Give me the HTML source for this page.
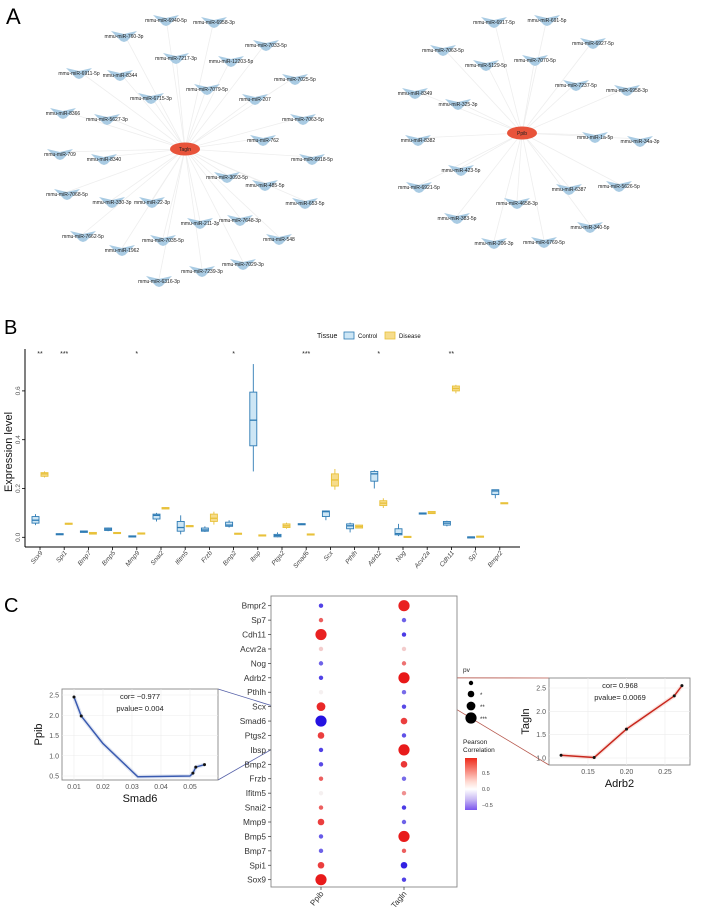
<!DOCTYPE html>
<html><head><meta charset="utf-8">
<style>
html,body{margin:0;padding:0;background:#fff;}
svg{display:block;font-family:"Liberation Sans",sans-serif;}
</style></head>
<body>
<svg id="fig" width="709" height="908" viewBox="0 0 709 908" xmlns="http://www.w3.org/2000/svg">
<text x="6" y="24" font-size="22">A</text>
<text x="4" y="334" font-size="20">B</text>
<text x="4" y="612" font-size="20">C</text>
<g id="netA"></g>
<g id="boxB"></g>
<g id="dotC"></g>
</svg>
<script>
// ---------- Panel A data ----------
const leftHub = "Tagln";
const leftMirs = ["6940-5p","6958-3p","760-3p","7033-5p","7217-3p","12203-5p","6911-5p","8344","7025-5p","7079-5p","6715-3p","207","8366","5627-3p","7063-5p","762","709","8340","6918-5p","3093-5p","7068-5p","485-5p","330-3p","22-3p","653-5p","211-3p","7648-3p","7662-5p","548","7035-5p","1962","7029-3p","7239-3p","6316-3p"];
const leftPos = [[166,20],[214,22],[124,36],[266,45],[176,58],[231,61],[79,73],[120,75],[295,79],[207,89],[151,98],[255,99],[63,113],[107,119],[303,119],[263,140],[60,154],[104,159],[312,159],[227,177],[67,194],[265,185],[112,202],[152,202],[305,203],[200,223],[240,220],[83,236],[279,239],[163,240],[122,250],[243,264],[202,271],[159,281]];
const rightHub = "Ppib";
const rightMirs = ["6917-5p","691-5p","6927-5p","7063-5p","5129-5p","7070-5p","7237-5p","6958-3p","8349","325-3p","8382","1a-5p","34a-3p","423-5p","6921-5p","5626-5p","6387","4658-3p","383-5p","340-5p","206-3p","6769-5p"];
const rightPos = [[494,22],[547,20],[593,43],[443,50],[486,65],[535,60],[576,85],[627,90],[415,93],[458,104],[418,140],[595,137],[640,141],[461,170],[419,187],[619,186],[569,189],[517,203],[457,218],[590,227],[494,243],[544,242]];

// ---------- Panel B data ----------
const genes = ["Sox9","Spi1","Bmp7","Bmp5","Mmp9","Snai2","Ifitm5","Frzb","Bmp2","Ibsp","Ptgs2","Smad6","Scx","Pthlh","Adrb2","Nog","Acvr2a","Cdh11","Sp7","Bmpr2"];
const ctrlMin = [0.05,0.011,0.019,0.025,0.001,0.065,0.012,0.022,0.04,0.27,0.0,0.051,0.07,0.02,0.2,0.005,0.094,0.045,0.0,0.16];
const ctrlQ1  = [0.058,0.012,0.02,0.028,0.002,0.075,0.025,0.025,0.045,0.375,0.002,0.052,0.085,0.035,0.23,0.01,0.095,0.05,0.0,0.175];
const ctrlMed = [0.07,0.013,0.023,0.033,0.004,0.09,0.04,0.03,0.05,0.48,0.007,0.054,0.105,0.047,0.26,0.015,0.097,0.058,0.001,0.19];
const ctrlQ3  = [0.085,0.015,0.026,0.038,0.006,0.095,0.065,0.038,0.062,0.595,0.012,0.056,0.108,0.055,0.27,0.035,0.1,0.065,0.002,0.195];
const ctrlMax = [0.095,0.016,0.027,0.04,0.007,0.1,0.09,0.045,0.07,0.71,0.02,0.057,0.11,0.06,0.275,0.055,0.101,0.068,0.003,0.195];
const disMin = [0.245,0.052,0.013,0.016,0.013,0.115,0.045,0.052,0.013,0.006,0.035,0.01,0.195,0.038,0.12,0.001,0.097,0.59,0.002,0.138];
const disQ1  = [0.25,0.053,0.013,0.016,0.013,0.116,0.045,0.065,0.013,0.006,0.04,0.01,0.21,0.038,0.13,0.001,0.097,0.6,0.002,0.138];
const disMed = [0.26,0.055,0.016,0.018,0.015,0.12,0.047,0.078,0.015,0.008,0.047,0.012,0.235,0.044,0.14,0.002,0.1,0.61,0.003,0.14];
const disQ3  = [0.265,0.058,0.02,0.02,0.018,0.122,0.048,0.095,0.017,0.01,0.055,0.014,0.26,0.05,0.15,0.004,0.106,0.62,0.005,0.142];
const disMax = [0.27,0.059,0.021,0.021,0.019,0.123,0.049,0.105,0.018,0.011,0.06,0.015,0.28,0.051,0.16,0.005,0.107,0.625,0.006,0.142];
const sigStars = ["**","***","","","*","","","","*","","","***","","","*","","","**","",""];
const yTicksB = [0.0,0.2,0.4,0.6];

// ---------- Panel C data ----------
const rowGenes = ["Bmpr2","Sp7","Cdh11","Acvr2a","Nog","Adrb2","Pthlh","Scx","Smad6","Ptgs2","Ibsp","Bmp2","Frzb","Ifitm5","Snai2","Mmp9","Bmp5","Bmp7","Spi1","Sox9"];
const colGenes = ["Ppib","Tagln"];
const corPpib = [-0.6,0.5,0.9,0.05,-0.4,-0.6,0.0,0.85,-0.977,0.7,-0.6,-0.55,0.5,0.0,0.5,0.7,-0.45,-0.4,0.7,0.95];
const pvPpib  = [0,0,3,0,0,0,0,2,3,1,0,0,0,0,0,1,0,0,1,3];
const corTagln = [0.9,-0.4,-0.65,0.05,0.4,0.968,-0.35,-0.55,0.7,-0.5,0.95,0.75,-0.35,0.25,-0.65,-0.4,0.95,0.5,-0.85,-0.6];
const pvTagln  = [3,0,0,0,0,3,0,0,1,0,3,1,0,0,0,0,3,0,1,0];
const smadX = [0.01,0.0125,0.051,0.052,0.055];
const ppibY = [2.45,1.98,0.57,0.72,0.78];
const smadFitX = [0.01,0.0125,0.02,0.032,0.05,0.051,0.052,0.055];
const smadFitY = [2.45,1.98,1.3,0.48,0.5,0.57,0.72,0.78];
const adrbX = [0.115,0.158,0.2,0.262,0.272];
const taglnY = [1.06,1.01,1.62,2.33,2.55];
const leftXTicks = [0.01,0.02,0.03,0.04,0.05];
const leftYTicks = [0.5,1.0,1.5,2.0,2.5];
const rightXTicks = [0.15,0.20,0.25];
const rightYTicks = [1.0,1.5,2.0,2.5];
const pvLabels = ["","*","**","***"];
const cbTicks = [0.5,0.0,-0.5];

const NS="http://www.w3.org/2000/svg";
function mk(tag, attrs, parent, text){
  const e=document.createElementNS(NS,tag);
  for(const k in attrs) e.setAttribute(k,attrs[k]);
  if(text!==undefined) e.textContent=text;
  parent.appendChild(e); return e;
}

// ---------- Panel A ----------
const gA=document.getElementById('netA');
function drawNet(hub,cx,cy,names,pos){
  pos.forEach(p=>{ const l=mk('line',{x1:cx,y1:cy,x2:p[0],y2:p[1]-2,stroke:'#eeeeee','stroke-width':0.8},gA);
      });
  names.forEach((n,i)=>{
    const [x,y]=pos[i];
    const v=mk('path',{d:`M${x-13},${y-5} L${x},${y-2} L${x+13},${y-5} L${x+3},${y+5} L${x},${y+6} L${x-3},${y+5} Z`,fill:'#a9cbe3'},gA);
     
    const t=mk('text',{x:x,y:y+2,'font-size':5,'text-anchor':'middle',fill:'#222'},gA,'mmu-miR-'+n);
     
  });
  const h=mk('ellipse',{cx:cx,cy:cy,rx:15,ry:6.5,fill:'#e8533a'},gA);
   
  const ht=mk('text',{x:cx,y:cy+2,'font-size':5,'text-anchor':'middle',fill:'#222'},gA,hub);
   
}
drawNet(leftHub,185,149,leftMirs,leftPos);
drawNet(rightHub,522,133,rightMirs,rightPos);

// ---------- Panel B ----------
const gB=document.getElementById('boxB');
const bx0=25,bx1=520,byAxis=547;
const yB=v=>537.3-v*244;
const xB=i=>40+i*24.2;
let e;
e=mk('line',{x1:bx0,y1:349,x2:bx0,y2:byAxis,stroke:'#000','stroke-width':1},gB);
 
e=mk('line',{x1:bx0,y1:byAxis,x2:bx1,y2:byAxis,stroke:'#000','stroke-width':1},gB);
 
yTicksB.forEach(v=>{
  mk('line',{x1:bx0-3,y1:yB(v),x2:bx0,y2:yB(v),stroke:'#000','stroke-width':0.8},gB);
  const t=mk('text',{x:0,y:0,'font-size':6.5,'text-anchor':'middle',fill:'#555',transform:`translate(20,${yB(v)}) rotate(-90)`},gB,v.toFixed(1));
   
});
e=mk('text',{x:0,y:0,'font-size':11,'text-anchor':'middle',fill:'#111',transform:'translate(12,452) rotate(-90)'},gB,'Expression level');
 
e=mk('text',{x:317,y:338,'font-size':7,fill:'#111'},gB,'Tissue');
 
e=mk('rect',{x:344,y:332,width:10,height:7,fill:'#cde6f5',stroke:'#2e7bb4','stroke-width':0.8},gB);
 
e=mk('text',{x:358,y:338,'font-size':6,fill:'#111'},gB,'Control');
 
e=mk('rect',{x:385,y:332,width:10,height:7,fill:'#f6dc8c',stroke:'#e8c13a','stroke-width':0.8},gB);
 
e=mk('text',{x:399,y:338,'font-size':6,fill:'#111'},gB,'Disease');
 

function box(cx,mn,q1,md,q3,mx,fill,stroke,name){
  const w=7;
  let el=mk('line',{x1:cx,y1:yB(mx),x2:cx,y2:yB(mn),stroke:stroke,'stroke-width':0.9},gB);
   
  el=mk('rect',{x:cx-w/2,y:yB(q3),width:w,height:Math.max(1.2,yB(q1)-yB(q3)),fill:fill,stroke:stroke,'stroke-width':0.9},gB);
   
  el=mk('line',{x1:cx-w/2,y1:yB(md),x2:cx+w/2,y2:yB(md),stroke:stroke,'stroke-width':1.3},gB);
   
}
genes.forEach((g,i)=>{
  const c=xB(i);
  box(c-4.5,ctrlMin[i],ctrlQ1[i],ctrlMed[i],ctrlQ3[i],ctrlMax[i],'#cde6f5','#2e7bb4','control-'+g.toLowerCase());
  box(c+4.5,disMin[i],disQ1[i],disMed[i],disQ3[i],disMax[i],'#f6dc8c','#e8c13a','disease-'+g.toLowerCase());
  mk('line',{x1:c,y1:byAxis,x2:c,y2:byAxis+3,stroke:'#000','stroke-width':0.8},gB);
  let t=mk('text',{x:0,y:0,'font-size':6.5,'text-anchor':'end',fill:'#444','font-style':'italic',transform:`translate(${c+3},${byAxis+6}) rotate(-50)`},gB,g);
   
  if(sigStars[i]){
    t=mk('text',{x:c,y:356,'font-size':7,'text-anchor':'middle',fill:'#222'},gB,sigStars[i]);
     
  }
});

// ---------- Panel C ----------
const gC=document.getElementById('dotC');
const rowY=i=>605.7+i*14.42;
const colX=[321,404];
function corColor(v){
  const lerp=(a,b,t)=>Math.round(a+(b-a)*t);
  if(v>=0){const t=Math.pow(Math.min(1,v),0.6);return `rgb(${lerp(245,232,t)},${lerp(240,20,t)},${lerp(240,20,t)})`;}
  const t=Math.pow(Math.min(1,-v),0.5);return `rgb(${lerp(240,35,t)},${lerp(240,15,t)},${lerp(245,225,t)})`;
}
const pvR=p=>[2.2,3.3,4.4,5.6][p];
e=mk('line',{x1:218,y1:689,x2:colX[0],y2:rowY(8),stroke:'#5560a8','stroke-width':0.8},gC);
 
e=mk('line',{x1:218,y1:780,x2:colX[0],y2:rowY(8),stroke:'#5560a8','stroke-width':0.8},gC);
 
e=mk('line',{x1:colX[1],y1:rowY(5),x2:549,y2:678,stroke:'#b5554a','stroke-width':0.8},gC);
 
e=mk('line',{x1:colX[1],y1:rowY(5),x2:549,y2:765,stroke:'#b5554a','stroke-width':0.8},gC);
 

e=mk('rect',{x:271,y:596,width:186,height:291,fill:'#fff',stroke:'#888','stroke-width':0.9},gC);
 
rowGenes.forEach((g,i)=>{
  const y=rowY(i);
  mk('line',{x1:268,y1:y,x2:271,y2:y,stroke:'#333','stroke-width':0.7},gC);
  let t=mk('text',{x:266,y:y+3,'font-size':8.3,'text-anchor':'end',fill:'#333'},gC,g);
   
  [[corPpib,pvPpib],[corTagln,pvTagln]].forEach((arr,j)=>{
    const c=mk('circle',{cx:colX[j],cy:y,r:pvR(arr[1][i]),fill:corColor(arr[0][i])},gC);
     
  });
});
colGenes.forEach((g,j)=>{
  mk('line',{x1:colX[j],y1:887,x2:colX[j],y2:890,stroke:'#333','stroke-width':0.7},gC);
  const t=mk('text',{x:0,y:0,'font-size':8,'text-anchor':'end',fill:'#333',transform:`translate(${colX[j]+3},${894}) rotate(-50)`},gC,g);
   
});
e=mk('text',{x:463,y:672,'font-size':6.5,fill:'#222'},gC,'pv');
 
[683,694,706,718].forEach((y,k)=>{
  const c=mk('circle',{cx:471,cy:y,r:pvR(k),fill:'#000'},gC);
   
  if(pvLabels[k]){const t=mk('text',{x:480,y:y+3,'font-size':6,fill:'#222'},gC,pvLabels[k]);
     }
});
e=mk('text',{x:463,y:744,'font-size':6.5,fill:'#222'},gC,'Pearson');
 
e=mk('text',{x:463,y:752,'font-size':6.5,fill:'#222'},gC,'Correlation');
 
const defs=mk('defs',{},document.getElementById('fig'));
const lg=mk('linearGradient',{id:'cb',x1:0,y1:0,x2:0,y2:1},defs);
[[0,'#ee2a1a'],[0.45,'#ffd8d0'],[0.6,'#ffffff'],[0.8,'#c8b8f4'],[1,'#7a55ee']].forEach(s=>mk('stop',{offset:s[0],'stop-color':s[1]},lg));
e=mk('rect',{x:465,y:758,width:12,height:52,fill:'url(#cb)'},gC);
 
cbTicks.forEach(v=>{
  const y=789-v*32;
  const t=mk('text',{x:482,y:y+2,'font-size':5.5,fill:'#444'},gC,v.toFixed(1).replace('-','−'));
   
});

function inset(o){
  const X=v=>o.px0+(v-o.xa)/(o.xb-o.xa)*(o.px1-o.px0);
  const Y=v=>o.py0+(v-o.ya)/(o.yb-o.ya)*(o.py1-o.py0);
  let el=mk('rect',{x:o.fx0,y:o.fy0,width:o.fx1-o.fx0,height:o.fy1-o.fy0,fill:'#fff',stroke:'#888','stroke-width':0.9},gC);
   
  o.xt.forEach(v=>{mk('line',{x1:X(v),y1:o.fy0,x2:X(v),y2:o.fy1,stroke:'#ececec','stroke-width':0.6},gC);
    const t=mk('text',{x:X(v),y:o.fy1+9,'font-size':7,'text-anchor':'middle',fill:'#555'},gC,v.toFixed(2));
     });
  o.yt.forEach(v=>{mk('line',{x1:o.fx0,y1:Y(v),x2:o.fx1,y2:Y(v),stroke:'#ececec','stroke-width':0.6},gC);
    const t=mk('text',{x:o.fx0-3,y:Y(v)+2.5,'font-size':7,'text-anchor':'end',fill:'#555'},gC,v.toFixed(1));
     });
  const fx=o.fitX, fy=o.fitY;
  let d='M'+X(fx[0])+','+Y(fy[0]);
  for(let i=1;i<fx.length;i++){d+=' L'+X(fx[i])+','+Y(fy[i]);}
  el=mk('path',{d:d,fill:'none',stroke:o.band,'stroke-width':4,'stroke-linejoin':'round',opacity:0.5},gC);
   
  el=mk('path',{d:d,fill:'none',stroke:o.color,'stroke-width':1.5,'stroke-linejoin':'round'},gC);
   
  o.xs.forEach((v,i)=>{const c=mk('circle',{cx:X(v),cy:Y(o.ys[i]),r:1.5,fill:'#111'},gC);
     });
  el=mk('text',{x:o.tx,y:o.fy0+10,'font-size':7.5,'text-anchor':'middle',fill:'#222'},gC,o.cor);
   
  el=mk('text',{x:o.tx,y:o.fy0+22,'font-size':7.5,'text-anchor':'middle',fill:'#222'},gC,o.pv);
   
  el=mk('text',{x:(o.fx0+o.fx1)/2,y:o.fy1+22,'font-size':11,'text-anchor':'middle',fill:'#111'},gC,o.xl);
   
  el=mk('text',{x:0,y:0,'font-size':11,'text-anchor':'middle',fill:'#111',transform:`translate(${o.fx0-20},${(o.fy0+o.fy1)/2}) rotate(-90)`},gC,o.yl);
   
}
inset({name:'ppib-smad6',fx0:62,fx1:218,fy0:689,fy1:780,px0:74,px1:190,xa:0.01,xb:0.05,py0:776,py1:695,ya:0.5,yb:2.5,
  xt:leftXTicks,yt:leftYTicks,xs:smadX,ys:ppibY,fitX:smadFitX,fitY:smadFitY,color:'#3a5bb0',band:'#c8d2ea',
  cor:'cor= −0.977',pv:'pvalue= 0.004',tx:140,xl:'Smad6',yl:'Ppib'});
inset({name:'tagln-adrb2',fx0:549,fx1:690,fy0:678,fy1:765,px0:588,px1:665,xa:0.15,xb:0.25,py0:758,py1:688,ya:1.0,yb:2.5,
  xt:rightXTicks,yt:rightYTicks,xs:adrbX,ys:taglnY,fitX:adrbX,fitY:taglnY,color:'#c8271d',band:'#f6c8c0',
  cor:'cor= 0.968',pv:'pvalue= 0.0069',tx:620,xl:'Adrb2',yl:'Tagln'});
</script>
</body></html>
